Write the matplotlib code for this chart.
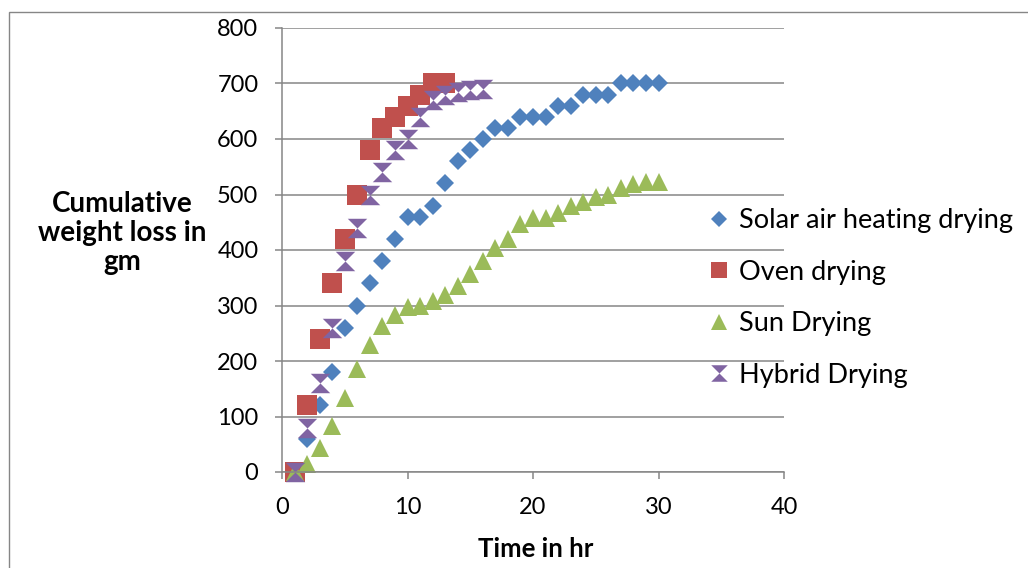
import matplotlib
matplotlib.use('Agg')
import matplotlib.pyplot as plt
from matplotlib.patches import Rectangle
from matplotlib.path import Path

# time in hours and cumulative weight loss (gm) for each drying method
solar_hours = list(range(1, 31))
solar_loss = [0, 60, 120, 180, 260, 300, 340, 380, 420, 460,
              460, 480, 520, 560, 580, 600, 620, 620, 640, 640,
              640, 660, 660, 680, 680, 680, 700, 700, 700, 700]

oven_hours = list(range(1, 14))
oven_loss = [0, 120, 240, 340, 420, 500, 580, 620, 640, 660, 680, 700, 700]

sun_hours = list(range(1, 31))
sun_loss = [0, 15, 44, 83, 134, 186, 228, 263, 283, 297,
            300, 308, 319, 336, 356, 380, 404, 419, 447, 457,
            457, 467, 479, 486, 495, 499, 511, 519, 522, 523]

hybrid_hours = list(range(1, 17))
hybrid_loss = [0, 80, 160, 260, 380, 440, 500, 540, 580, 600,
               640, 670, 680, 685, 688, 690]

series_names = ['Solar air heating drying', 'Oven drying', 'Sun Drying', 'Hybrid Drying']

BLUE = '#4F81BD'
RED = '#C0504D'
GREEN = '#9BBB59'
PURPLE = '#8064A2'
GRID = '#868686'

plt.rcParams['font.family'] = ['Lato', 'DejaVu Sans']

hourglass = Path([(-1, 1), (1, 1), (0, 0), (1, -1), (-1, -1), (0, 0), (-1, 1)],
                 [Path.MOVETO, Path.LINETO, Path.LINETO, Path.LINETO,
                  Path.LINETO, Path.LINETO, Path.CLOSEPOLY])

W, H = 1028, 568
fig = plt.figure(figsize=(W / 100, H / 100), dpi=100)
ax = fig.add_axes([282 / W, 1 - 472 / H, (784 - 282) / W, (472 - 28) / H])

# chart area border (only top and left edges fall inside the picture)
fig.patches.append(Rectangle((8.5 / W, -0.2), 1.2, 1.2 - 11.5 / H,
                             transform=fig.transFigure, fill=False,
                             edgecolor=GRID, lw=1.0))

ax.plot(solar_hours, solar_loss, linestyle='none', marker='D', ms=9.2,
        color=BLUE, mew=0, label=series_names[0], clip_on=False)
ax.plot(oven_hours, oven_loss, linestyle='none', marker='s', ms=14,
        color=RED, mew=0, label=series_names[1], clip_on=False)
ax.plot(sun_hours, sun_loss, linestyle='none', marker='^', ms=13.5,
        color=GREEN, mew=0, label=series_names[2], clip_on=False)
ax.plot(hybrid_hours, hybrid_loss, linestyle='none', marker=hourglass, ms=14,
        color=PURPLE, mew=0, label=series_names[3], clip_on=False)

ax.set_xlim(0, 40)
ax.set_ylim(0, 800)
ax.set_xticks(range(0, 41, 10))
ax.set_yticks(range(0, 801, 100))
ax.grid(axis='y', color=GRID, lw=1.1)
ax.set_axisbelow(True)
for side in ['top', 'right']:
    ax.spines[side].set_visible(False)
ax.spines['left'].set_color(GRID)
ax.spines['bottom'].set_color(GRID)
ax.spines['left'].set_linewidth(1.1)
ax.spines['bottom'].set_linewidth(1.1)
ax.tick_params(axis='both', direction='out', length=5, width=1.1, color=GRID,
               labelsize=17, labelcolor='black')
ax.tick_params(axis='y', pad=12)
ax.tick_params(axis='x', pad=13)

fig.text(122 / W, 1 - 233 / H, 'Cumulative\nweight loss in\ngm', ha='center',
         va='center', multialignment='center', fontsize=20, fontweight='bold',
         linespacing=1.15)
fig.text(536 / W, 1 - 549 / H, 'Time in hr', ha='center', va='center',
         fontsize=18.5, fontweight='bold')

ax.legend(loc='upper left', bbox_to_anchor=(708 / W, 1 - 208 / H),
          bbox_transform=fig.transFigure, frameon=False, fontsize=19.5,
          markerscale=0.85, handlelength=0.8, handletextpad=0.35,
          labelspacing=0.98, borderpad=0, borderaxespad=0)

fig.savefig('out.png', dpi=100)
